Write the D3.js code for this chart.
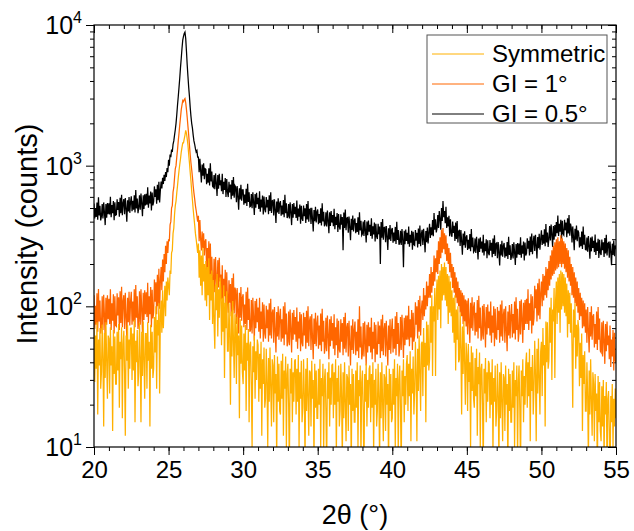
<!DOCTYPE html>
<html>
<head>
<meta charset="utf-8">
<script src="https://cdn.jsdelivr.net/npm/d3@7"></script>
<style>
body { margin: 0; background: #fff; }
svg { font-family: "Liberation Sans", Arial, sans-serif; }
</style>
</head>
<body>
<svg id="xrd" width="634" height="531"></svg>
<script>

// 2theta grid, 0.05 deg step from 20 to 55 (one row below = 0.5 deg)
var twoTheta = d3.range(701).map(function(i) { return +(20 + i * 0.05).toFixed(2); });

// GI = 0.5 deg (black)
var gi05 = [
  538, 422, 499, 432, 547, 413, 595, 442, 518, 408,
  437, 534, 422, 548, 466, 378, 534, 427, 543, 451,
  540, 450, 600, 430, 525, 460, 560, 410, 550, 445,
  449, 576, 485, 551, 434, 592, 459, 622, 444, 541,
  578, 452, 588, 494, 399, 567, 473, 599, 462, 551,
  605, 475, 562, 486, 616, 464, 670, 497, 583, 459,
  504, 616, 487, 633, 538, 437, 616, 493, 627, 521,
  632, 527, 702, 503, 614, 538, 655, 480, 644, 521,
  554, 712, 599, 680, 536, 731, 567, 769, 548, 668,
  770, 690, 820, 740, 860, 780, 900, 830, 960, 900,
  1100, 1000, 1200, 1150, 1300, 1250, 1420, 1500, 1650, 1800,
  2000, 2300, 2700, 3100, 3600, 4200, 5000, 5800, 6800, 7800,
  8300, 8700, 8900, 8000, 6500, 5200, 4300, 3600, 3100, 2600,
  2250, 2000, 1850, 1650, 1500, 1420, 1320, 1250, 1280, 1150,
  1150, 900, 1120, 920, 760, 1020, 850, 1040, 800, 950,
  941, 739, 874, 756, 958, 722, 1042, 773, 907, 714,
  702, 858, 679, 881, 749, 608, 858, 686, 874, 725,
  788, 657, 876, 628, 767, 672, 818, 599, 803, 650,
  598, 768, 646, 734, 578, 789, 612, 830, 592, 721,
  704, 550, 717, 602, 486, 691, 576, 730, 563, 672,
  672, 528, 624, 540, 684, 516, 744, 552, 648, 510,
  515, 629, 498, 646, 549, 446, 629, 503, 641, 532,
  592, 493, 658, 471, 575, 504, 614, 449, 603, 488,
  466, 599, 504, 572, 451, 615, 477, 647, 461, 562,
  567, 443, 577, 484, 391, 556, 464, 587, 453, 541,
  560, 440, 520, 450, 570, 430, 620, 460, 540, 425,
  437, 534, 422, 548, 466, 378, 534, 427, 543, 451,
  510, 425, 566, 406, 496, 434, 529, 387, 519, 420,
  405, 520, 437, 497, 391, 534, 414, 561, 400, 488,
  493, 385, 502, 421, 340, 484, 403, 511, 394, 470,
  488, 384, 453, 392, 497, 375, 541, 401, 471, 371,
  382, 466, 369, 479, 407, 331, 466, 373, 475, 394,
  445, 371, 494, 354, 433, 379, 461, 338, 453, 367,
  352, 452, 380, 432, 250, 464, 360, 488, 348, 424,
  427, 334, 435, 365, 295, 419, 349, 442, 341, 407,
  421, 331, 391, 338, 429, 323, 466, 346, 406, 320,
  328, 400, 317, 411, 349, 284, 400, 320, 408, 339,
  380, 317, 422, 303, 370, 324, 394, 289, 387, 313,
  301, 386, 325, 369, 200, 397, 308, 417, 298, 363,
  365, 286, 372, 312, 252, 359, 299, 378, 292, 349,
  361, 283, 335, 290, 367, 277, 399, 296, 348, 274,
  283, 345, 273, 355, 301, 190, 345, 276, 352, 292,
  333, 277, 370, 265, 323, 283, 345, 253, 339, 274,
  271, 348, 293, 333, 262, 357, 277, 376, 268, 326,
  350, 273, 356, 299, 242, 343, 286, 363, 280, 334,
  386, 306, 365, 320, 410, 315, 460, 350, 415, 335,
  360, 445, 360, 475, 415, 350, 500, 405, 560, 430,
  475, 390, 510, 360, 430, 370, 440, 315, 415, 330,
  312, 400, 333, 374, 292, 394, 301, 404, 284, 343,
  346, 269, 348, 290, 233, 329, 272, 341, 261, 310,
  320, 252, 297, 257, 326, 246, 355, 263, 309, 243,
  248, 304, 240, 312, 265, 215, 304, 243, 309, 257,
  289, 241, 322, 230, 281, 247, 300, 220, 295, 239,
  231, 296, 249, 283, 223, 304, 236, 320, 228, 278,
  282, 220, 287, 241, 195, 276, 230, 292, 225, 269,
  282, 222, 262, 227, 287, 217, 312, 232, 272, 214,
  227, 277, 219, 285, 242, 197, 277, 222, 282, 234,
  279, 232, 310, 222, 271, 237, 289, 212, 284, 230,
  238, 305, 257, 292, 230, 313, 243, 329, 235, 286,
  317, 248, 323, 271, 219, 311, 259, 328, 253, 302,
  347, 273, 322, 279, 353, 267, 384, 285, 335, 264,
  304, 372, 294, 382, 324, 264, 372, 297, 379, 314,
  397, 331, 442, 316, 386, 339, 412, 302, 405, 328,
  321, 412, 347, 394, 310, 423, 329, 445, 318, 387,
  363, 284, 370, 310, 251, 356, 297, 376, 290, 347,
  334, 262, 310, 268, 340, 256, 370, 274, 322, 253,
  252, 308, 244, 316, 269, 218, 308, 246, 314, 260,
  292, 243, 324, 232, 284, 248, 302, 221, 297, 240,
  232, 298, 251, 285, 224, 306, 238, 322, 230, 280,
  284, 222, 289, 243, 196, 279, 232, 294, 227, 271,
  255
];

// GI = 1 deg (orange)
var gi1 = [
  120, 69, 101, 74, 124, 66, 133, 78, 110, 64,
  72, 118, 68, 121, 87, 60, 115, 74, 120, 81,
  113, 75, 132, 68, 105, 79, 122, 64, 118, 73,
  72, 124, 86, 116, 68, 128, 76, 138, 71, 109,
  120, 69, 125, 84, 60, 115, 77, 127, 73, 108,
  127, 74, 108, 78, 132, 71, 142, 83, 118, 69,
  78, 128, 74, 132, 95, 65, 125, 80, 130, 88,
  126, 84, 147, 76, 118, 88, 137, 71, 131, 82,
  90, 155, 108, 148, 88, 168, 100, 185, 96, 150,
  190, 130, 215, 150, 235, 175, 270, 200, 290, 240,
  300, 290, 380, 400, 500, 520, 650, 700, 820, 950,
  1000, 1150, 1300, 1500, 1700, 1950, 2200, 2500, 2700, 2900,
  2850, 2950, 3000, 2800, 2500, 2200, 1900, 1650, 1400, 1200,
  1050, 940, 830, 720, 640, 580, 520, 480, 440, 400,
  440, 290, 410, 300, 250, 340, 260, 330, 230, 290,
  300, 180, 260, 185, 290, 150, 280, 165, 225, 140,
  133, 218, 126, 224, 162, 111, 213, 136, 221, 150,
  168, 112, 196, 101, 157, 118, 182, 95, 175, 109,
  90, 153, 106, 144, 85, 159, 94, 171, 89, 136,
  130, 75, 135, 92, 64, 125, 83, 137, 79, 116,
  122, 71, 103, 75, 127, 68, 136, 80, 113, 66,
  68, 111, 64, 115, 83, 57, 109, 70, 113, 77,
  98, 66, 115, 59, 92, 69, 107, 56, 103, 64,
  59, 101, 70, 95, 56, 105, 62, 113, 59, 90,
  95, 55, 99, 67, 47, 91, 61, 100, 58, 85,
  96, 56, 81, 59, 100, 53, 107, 63, 89, 52,
  56, 92, 53, 95, 68, 47, 90, 58, 94, 63,
  84, 56, 98, 50, 78, 59, 91, 48, 88, 55,
  52, 90, 62, 84, 50, 93, 55, 100, 52, 79,
  85, 49, 88, 60, 42, 82, 54, 90, 52, 76,
  86, 50, 73, 53, 89, 48, 96, 56, 79, 46,
  51, 83, 48, 86, 62, 42, 81, 52, 85, 57,
  76, 50, 88, 45, 71, 53, 82, 43, 79, 49,
  47, 81, 56, 76, 45, 84, 50, 90, 47, 71,
  76, 44, 79, 54, 38, 73, 49, 81, 46, 68,
  78, 45, 66, 48, 81, 43, 100, 51, 72, 42,
  46, 76, 44, 78, 56, 38, 74, 47, 77, 52,
  71, 47, 83, 42, 66, 50, 77, 40, 74, 46,
  46, 78, 54, 73, 43, 81, 48, 87, 45, 69,
  76, 44, 79, 54, 38, 73, 49, 81, 46, 68,
  82, 47, 69, 50, 85, 45, 91, 54, 76, 44,
  51, 84, 49, 87, 63, 43, 83, 53, 86, 58,
  86, 58, 101, 52, 81, 60, 94, 49, 90, 56,
  62, 107, 74, 100, 59, 111, 66, 119, 62, 94,
  110, 80, 135, 85, 120, 95, 150, 100, 140, 115,
  170, 115, 190, 125, 175, 140, 230, 150, 220, 175,
  250, 170, 290, 200, 310, 220, 350, 240, 360, 255,
  330, 235, 320, 210, 280, 200, 260, 175, 240, 160,
  200, 135, 190, 125, 175, 115, 160, 105, 150, 100,
  135, 90, 130, 85, 125, 75, 120, 78, 112, 72,
  110, 63, 114, 77, 55, 106, 70, 116, 67, 99,
  107, 62, 90, 66, 111, 59, 119, 70, 98, 57,
  62, 101, 58, 104, 75, 51, 99, 63, 103, 70,
  92, 62, 108, 55, 86, 65, 100, 52, 96, 60,
  58, 99, 68, 93, 55, 103, 61, 110, 57, 87,
  96, 55, 100, 68, 48, 92, 62, 102, 59, 86,
  104, 60, 88, 64, 108, 58, 116, 68, 96, 56,
  66, 109, 63, 112, 81, 55, 106, 68, 111, 75,
  113, 75, 132, 68, 105, 79, 122, 64, 118, 73,
  82, 140, 97, 132, 78, 146, 86, 157, 81, 124,
  150, 100, 170, 110, 165, 120, 190, 115, 185, 130,
  210, 140, 230, 155, 250, 165, 270, 170, 285, 180,
  300, 185, 310, 190, 290, 200, 320, 190, 305, 200,
  290, 185, 280, 175, 260, 160, 250, 150, 225, 140,
  200, 120, 190, 115, 175, 105, 160, 100, 150, 90,
  135, 80, 125, 85, 115, 70, 110, 72, 105, 65,
  95, 55, 99, 67, 47, 91, 61, 100, 58, 85,
  88, 51, 75, 54, 92, 49, 99, 58, 82, 48,
  47, 77, 44, 79, 57, 39, 75, 48, 78, 53,
  62, 42, 73, 37, 58, 44, 68, 35, 65, 41,
  40
];

// Symmetric (yellow)
var symmetric = [
  72, 29, 62, 36, 77, 17, 58, 38, 70, 26,
  34, 74, 43, 14, 65, 31, 77, 41, 22, 62,
  59, 24, 71, 38, 52, 13, 68, 33, 61, 28,
  28, 66, 35, 75, 19, 56, 42, 71, 16, 54,
  67, 34, 12, 62, 41, 74, 26, 58, 36, 70,
  70, 30, 64, 35, 80, 15, 57, 40, 68, 27,
  34, 76, 44, 15, 66, 32, 78, 42, 22, 64,
  64, 26, 77, 41, 56, 14, 74, 36, 66, 31,
  36, 84, 47, 100, 26, 80, 62, 105, 24, 85,
  110, 65, 130, 70, 100, 140, 85, 150, 110, 160,
  140, 120, 180, 170, 240, 250, 330, 360, 450, 520,
  560, 640, 720, 820, 920, 1020, 1120, 1250, 1350, 1450,
  1450, 1550, 1650, 1780, 1700, 1550, 1400, 1200, 1050, 900,
  780, 660, 570, 490, 430, 380, 330, 300, 270, 240,
  280, 160, 250, 140, 230, 120, 260, 150, 200, 110,
  210, 100, 190, 120, 220, 80, 170, 110, 180, 75,
  154, 77, 50, 143, 94, 170, 61, 132, 83, 160,
  132, 53, 114, 66, 141, 31, 106, 70, 128, 48,
  48, 105, 61, 20, 92, 44, 109, 58, 31, 88,
  70, 28, 84, 45, 62, 16, 81, 39, 73, 34,
  28, 64, 35, 74, 18, 55, 41, 69, 15, 53,
  56, 28, 10, 52, 34, 62, 22, 48, 30, 58,
  53, 21, 46, 26, 56, 12, 42, 28, 51, 19,
  22, 50, 29, 10, 43, 21, 51, 27, 14, 42,
  38, 15, 45, 24, 33, 8, 44, 21, 39, 18,
  17, 41, 22, 46, 12, 35, 26, 44, 10, 33,
  39, 20, 7, 36, 24, 43, 15, 34, 21, 41,
  42, 17, 36, 21, 45, 10, 34, 22, 41, 15,
  19, 42, 24, 8, 36, 18, 43, 23, 12, 35,
  34, 14, 41, 22, 30, 8, 39, 19, 35, 16,
  16, 36, 20, 42, 10, 31, 23, 39, 9, 30,
  36, 18, 7, 34, 22, 40, 14, 31, 20, 38,
  39, 16, 34, 20, 42, 9, 31, 21, 38, 14,
  18, 39, 23, 8, 34, 16, 40, 21, 11, 33,
  31, 13, 38, 20, 28, 7, 36, 18, 33, 15,
  15, 35, 19, 40, 10, 30, 23, 38, 8, 29,
  35, 18, 6, 33, 21, 39, 14, 30, 19, 36,
  38, 15, 33, 19, 40, 9, 30, 20, 36, 14,
  18, 39, 23, 8, 34, 16, 40, 21, 11, 33,
  31, 13, 38, 20, 28, 7, 36, 18, 33, 15,
  16, 36, 20, 42, 10, 31, 23, 39, 9, 30,
  38, 19, 7, 35, 23, 42, 15, 32, 20, 39,
  45, 18, 39, 23, 48, 11, 36, 24, 44, 17,
  25, 56, 33, 11, 50, 25, 62, 34, 18, 54,
  56, 23, 70, 37, 55, 15, 78, 38, 74, 35,
  42, 100, 55, 120, 32, 100, 78, 135, 32, 115,
  155, 80, 165, 95, 180, 70, 200, 110, 190, 120,
  205, 110, 190, 100, 170, 75, 165, 90, 150, 85,
  130, 65, 115, 55, 120, 35, 95, 58, 100, 40,
  42, 90, 50, 17, 72, 33, 78, 40, 20, 55,
  45, 18, 54, 29, 40, 10, 52, 25, 47, 22,
  19, 43, 23, 50, 12, 37, 28, 47, 10, 36,
  39, 20, 7, 36, 24, 43, 15, 34, 21, 41,
  39, 16, 34, 20, 42, 9, 31, 21, 38, 14,
  18, 39, 23, 8, 34, 16, 40, 21, 11, 33,
  31, 13, 38, 20, 28, 7, 36, 18, 33, 15,
  15, 35, 19, 40, 10, 30, 23, 38, 8, 29,
  38, 19, 7, 35, 23, 42, 15, 32, 20, 39,
  47, 19, 40, 23, 50, 11, 37, 25, 45, 17,
  26, 57, 33, 11, 50, 24, 59, 31, 17, 48,
  56, 23, 70, 38, 53, 14, 78, 40, 77, 36,
  41, 98, 55, 115, 30, 95, 78, 135, 31, 110,
  150, 75, 160, 90, 170, 65, 180, 95, 175, 100,
  170, 90, 160, 85, 145, 60, 130, 75, 125, 65,
  105, 52, 19, 95, 60, 105, 36, 74, 44, 80,
  69, 27, 55, 31, 64, 13, 45, 28, 48, 18,
  18, 40, 23, 8, 35, 17, 42, 22, 12, 34,
  28, 11, 33, 18, 24, 6, 32, 15, 29, 13,
  11, 27, 14, 30, 8, 23, 17, 29, 6, 22,
  25, 13, 5, 23, 15, 28, 10, 22, 14, 26,
  16
];

var seriesNames = ["Symmetric", "GI = 1\u00b0", "GI = 0.5\u00b0"];
var seriesColors = ["#FFB000", "#FF6600", "#000000"];
var xTicks = [20, 25, 30, 35, 40, 45, 50, 55];
var yExponents = [1, 2, 3, 4];

var margin = {top: 25, right: 18, bottom: 84, left: 94};
var width = 634 - margin.left - margin.right;
var height = 531 - margin.top - margin.bottom;

var svg = d3.select("svg#xrd");

var x = d3.scaleLinear().domain([20, 55]).range([0, width]);
var y = d3.scaleLog().domain([10, 10000]).range([height, 0]);

var g = svg.append("g")
  .attr("transform", "translate(" + margin.left + "," + margin.top + ")");

g.append("clipPath")
  .attr("id", "plot-clip")
  .append("rect")
  .attr("width", width)
  .attr("height", height);

var xMinor = d3.range(20, 56, 1);
var yMajor = yExponents.map(function(e) { return Math.pow(10, e); });
var yMinor = [];
yExponents.forEach(function(e) {
  if (e < 4) {
    for (var k = 2; k < 10; k++) yMinor.push(k * Math.pow(10, e));
  }
});

var cleanAxis = function(sel) {
  sel.select(".domain").remove();
  sel.selectAll("line").attr("stroke", "#000").attr("stroke-width", 1);
};

// bottom axis, ticks outward
g.append("g")
  .attr("transform", "translate(0," + height + ")")
  .call(d3.axisBottom(x).tickValues(xMinor).tickSize(4).tickFormat(""))
  .call(cleanAxis);

g.append("g")
  .attr("transform", "translate(0," + height + ")")
  .call(d3.axisBottom(x).tickValues(xTicks).tickSize(8).tickPadding(6).tickFormat(d3.format("d")))
  .call(cleanAxis)
  .selectAll("text")
  .attr("font-size", 24)
  .attr("fill", "#000")
  .attr("font-family", "Liberation Sans, Arial, sans-serif");

// top axis, ticks inward
g.append("g")
  .call(d3.axisTop(x).tickValues(xMinor).tickSize(-4).tickFormat(""))
  .call(cleanAxis);
g.append("g")
  .call(d3.axisTop(x).tickValues(xTicks).tickSize(-8).tickFormat(""))
  .call(cleanAxis);

// left axis, ticks outward
g.append("g")
  .call(d3.axisLeft(y).tickValues(yMinor).tickSize(4).tickFormat(""))
  .call(cleanAxis);
g.append("g")
  .call(d3.axisLeft(y).tickValues(yMajor).tickSize(8).tickFormat(""))
  .call(cleanAxis);

// right axis, ticks inward
g.append("g")
  .attr("transform", "translate(" + width + ",0)")
  .call(d3.axisRight(y).tickValues(yMinor).tickSize(-4).tickFormat(""))
  .call(cleanAxis);
g.append("g")
  .attr("transform", "translate(" + width + ",0)")
  .call(d3.axisRight(y).tickValues(yMajor).tickSize(-8).tickFormat(""))
  .call(cleanAxis);

// y tick labels 10^n
var ylab = g.append("g").selectAll("text")
  .data(yExponents)
  .enter().append("text")
  .attr("x", -12)
  .attr("y", function(d) { return y(Math.pow(10, d)) + 9; })
  .attr("text-anchor", "end")
  .attr("font-size", 25)
  .attr("fill", "#000");
ylab.append("tspan").text("10");
ylab.append("tspan")
  .attr("font-size", 16)
  .attr("dy", -11)
  .text(function(d) { return d; });

// data lines, black first, yellow on top
var line = d3.line()
  .x(function(d, i) { return x(twoTheta[i]); })
  .y(function(d) { return y(d); });

var series = [gi05, gi1, symmetric];
var colorsDraw = [seriesColors[2], seriesColors[1], seriesColors[0]];

g.append("g")
  .attr("clip-path", "url(#plot-clip)")
  .selectAll("path")
  .data(series)
  .enter().append("path")
  .attr("d", line)
  .attr("fill", "none")
  .attr("stroke", function(d, i) { return colorsDraw[i]; })
  .attr("stroke-width", 1.25)
  .attr("stroke-linejoin", "miter");

// frame
g.append("rect")
  .attr("width", width)
  .attr("height", height)
  .attr("fill", "none")
  .attr("stroke", "#000")
  .attr("stroke-width", 1.2);

// legend
var legend = g.append("g")
  .attr("transform", "translate(" + (427 - margin.left) + "," + (35 - margin.top) + ")");

legend.append("rect")
  .attr("width", 180)
  .attr("height", 88)
  .attr("fill", "#fff")
  .attr("stroke", "#555")
  .attr("stroke-width", 1);

var items = legend.selectAll(".item")
  .data(seriesNames)
  .enter().append("g")
  .attr("class", "item")
  .attr("transform", function(d, i) { return "translate(0," + (19 + i * 30) + ")"; });

items.append("line")
  .attr("x1", 5)
  .attr("x2", 57)
  .attr("stroke", function(d, i) { return seriesColors[i]; })
  .attr("stroke-width", 1);

items.append("text")
  .attr("x", 65)
  .attr("y", 8)
  .attr("font-size", 24)
  .attr("fill", "#000")
  .text(function(d) { return d; });

// axis titles
svg.append("text")
  .attr("x", margin.left + width / 2)
  .attr("y", 524)
  .attr("text-anchor", "middle")
  .attr("font-size", 27)
  .attr("fill", "#000")
  .text("2\u03b8 (\u00b0)");

svg.append("text")
  .attr("transform", "translate(37," + (margin.top + height / 2 - 2) + ") rotate(-90)")
  .attr("text-anchor", "middle")
  .attr("font-size", 29)
  .attr("fill", "#000")
  .text("Intensity (counts)");

</script>
</body>
</html>
